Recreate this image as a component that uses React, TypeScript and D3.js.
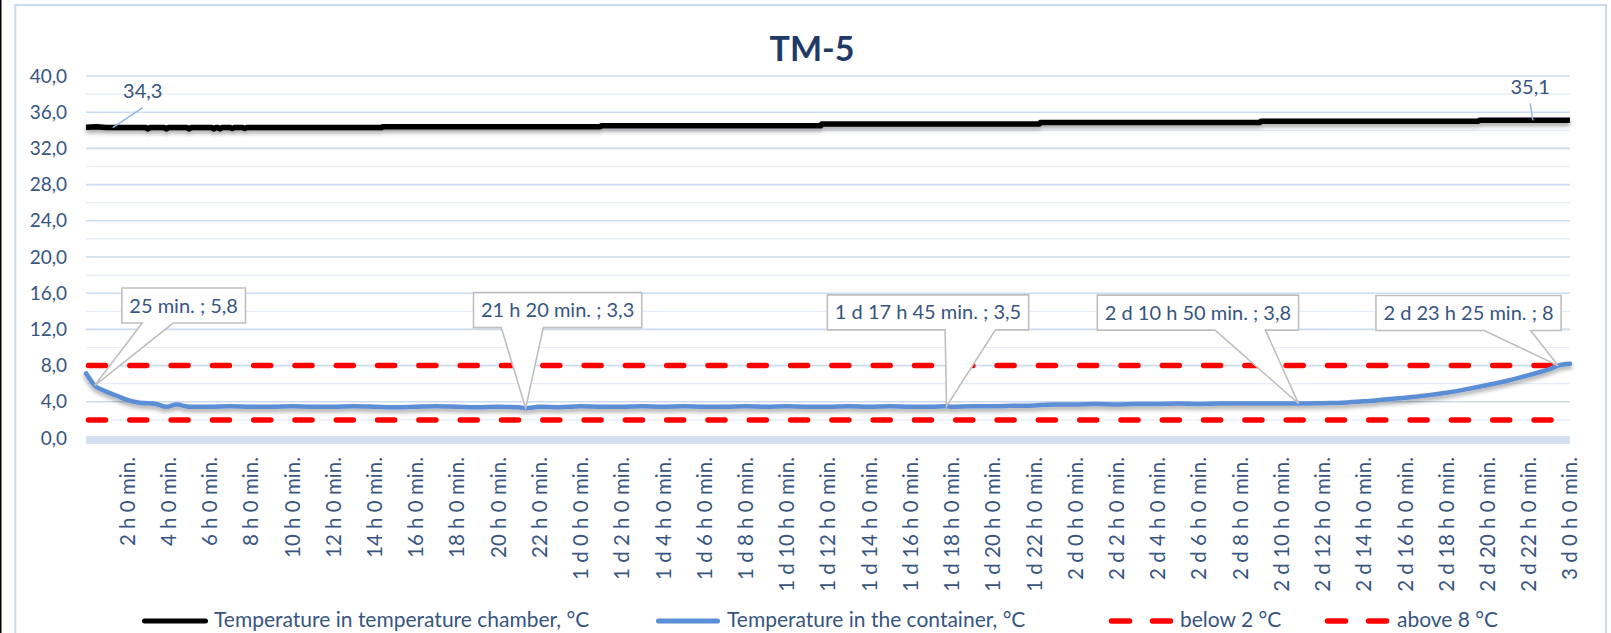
import React, { useEffect, useRef } from 'react';
import * as d3 from 'd3';

const W = 1611;
const H = 633;

const titleText = 'TM-5';

const yTicks = [0, 4, 8, 12, 16, 20, 24, 28, 32, 36, 40];
const yTickLabels = ['0,0', '4,0', '8,0', '12,0', '16,0', '20,0', '24,0', '28,0', '32,0', '36,0', '40,0'];
const yMinorTicks = [2, 6, 10, 14, 18, 22, 26, 30, 34, 38];

const xTickHours = [2, 4, 6, 8, 10, 12, 14, 16, 18, 20, 22, 24, 26, 28, 30, 32, 34, 36, 38, 40, 42, 44, 46, 48, 50, 52, 54, 56, 58, 60, 62, 64, 66, 68, 70, 72];
const xTickLabels = [
  '2 h 0 min.', '4 h 0 min.', '6 h 0 min.', '8 h 0 min.', '10 h 0 min.', '12 h 0 min.', '14 h 0 min.', '16 h 0 min.', '18 h 0 min.', '20 h 0 min.', '22 h 0 min.',
  '1 d 0 h 0 min.', '1 d 2 h 0 min.', '1 d 4 h 0 min.', '1 d 6 h 0 min.', '1 d 8 h 0 min.', '1 d 10 h 0 min.', '1 d 12 h 0 min.', '1 d 14 h 0 min.', '1 d 16 h 0 min.', '1 d 18 h 0 min.', '1 d 20 h 0 min.', '1 d 22 h 0 min.',
  '2 d 0 h 0 min.', '2 d 2 h 0 min.', '2 d 4 h 0 min.', '2 d 6 h 0 min.', '2 d 8 h 0 min.', '2 d 10 h 0 min.', '2 d 12 h 0 min.', '2 d 14 h 0 min.', '2 d 16 h 0 min.', '2 d 18 h 0 min.', '2 d 20 h 0 min.', '2 d 22 h 0 min.',
  '3 d 0 h 0 min.',
];

// Temperature in temperature chamber (hours, °C)
const chamberHours = [0, 0.5, 1.0, 2.9, 3.0, 3.1, 3.8, 3.9, 4.0, 4.9, 5.0, 5.1, 6.1, 6.2, 6.3, 6.4, 6.5, 6.6, 7.0, 7.1, 7.2, 7.6, 7.7, 7.8, 14.35, 14.4, 24.95, 25.0, 35.65, 35.7, 46.25, 46.3, 56.95, 57.0, 67.55, 67.6, 72];
const chamberTemps = [34.35, 34.4, 34.3, 34.3, 34.15, 34.3, 34.3, 34.15, 34.3, 34.3, 34.15, 34.3, 34.3, 34.15, 34.3, 34.3, 34.15, 34.3, 34.3, 34.2, 34.3, 34.3, 34.2, 34.3, 34.3, 34.4, 34.4, 34.5, 34.5, 34.7, 34.7, 34.85, 34.85, 35.0, 35.0, 35.1, 35.1];

// Temperature in the container (hours, °C)
const containerHours = [0, 0.25, 0.42, 0.75, 1, 1.4, 2, 2.6, 3.4, 3.9, 4.4, 5, 6, 7, 8, 9, 10, 11, 12, 13, 14, 15, 16, 17, 18, 19, 20, 21, 21.33, 22, 23, 24, 25, 26, 27, 28, 29, 30, 31, 32, 33, 34, 35, 36, 37, 38, 39, 40, 41, 41.75, 42, 43, 44, 45, 46, 47, 48, 49, 50, 51, 52, 53, 54, 55, 56, 57, 58, 58.83, 59, 60, 61, 62, 63, 64, 65, 66, 67, 68, 69, 70, 71, 71.42, 72];
const containerTemps = [7.15, 6.3, 5.8, 5.35, 5.1, 4.75, 4.2, 3.9, 3.75, 3.45, 3.7, 3.45, 3.45, 3.5, 3.45, 3.45, 3.5, 3.45, 3.45, 3.5, 3.45, 3.4, 3.45, 3.5, 3.45, 3.4, 3.45, 3.4, 3.3, 3.45, 3.4, 3.5, 3.45, 3.45, 3.5, 3.45, 3.5, 3.45, 3.45, 3.5, 3.45, 3.5, 3.45, 3.45, 3.5, 3.45, 3.5, 3.45, 3.45, 3.5, 3.45, 3.5, 3.5, 3.55, 3.6, 3.7, 3.7, 3.75, 3.7, 3.75, 3.75, 3.8, 3.75, 3.8, 3.8, 3.8, 3.8, 3.8, 3.8, 3.85, 3.9, 4.05, 4.25, 4.45, 4.7, 5.0, 5.4, 5.85, 6.35, 6.95, 7.6, 8.0, 8.2];

// Limits
const limitHours = [0, 71.35];
const belowLimit = [2, 2];
const aboveLimit = [8, 8];

// Callouts on container series
const calloutHours = [0.42, 21.33, 41.75, 58.83, 71.42];
const calloutTemps = [5.8, 3.3, 3.5, 3.8, 8];
const calloutTexts = ['25 min. ; 5,8', '21 h 20 min. ; 3,3', '1 d 17 h 45 min. ; 3,5', '2 d 10 h 50 min. ; 3,8', '2 d 23 h 25 min. ; 8'];

// Data labels on chamber series
const chamberLabelHours = [1.3, 70.2];
const chamberLabelTemps = [34.3, 35.1];
const chamberLabelTexts = ['34,3', '35,1'];

const legendNames = ['Temperature in temperature chamber, °C', 'Temperature in the container, °C', 'below 2 °C', 'above 8 °C'];

// ---- layout (positions / styles) ----
const calloutOffsets: [number, number][] = [[89, -80], [32, -98], [-18.5, -94], [-100.6, -91], [-89.5, -52.6]];
const chamberLabelOffsets: [number, number, number][] = [[30, -29.3, -20], [-2.7, -26, -17]];
const legendLayout = [
  { x1: 144.5, x2: 205.5, tx: 214, color: '#000000', width: 5, dash: null as string | null },
  { x1: 658.5, x2: 717.5, tx: 727, color: '#5B8ED6', width: 5, dash: null as string | null },
  { x1: 1111.5, x2: 1170.5, tx: 1180, color: '#FF0000', width: 5.5, dash: '18,23' },
  { x1: 1327.5, x2: 1386.5, tx: 1397, color: '#FF0000', width: 5.5, dash: '18,23' },
];

const FONT = "Lato, 'Liberation Sans', sans-serif";
const TEXT = '#38557F';

export default function App() {
  const ref = useRef<SVGSVGElement>(null);

  useEffect(() => {
    const svg = d3.select(ref.current!);
    svg.selectAll('*').remove();

    const x = d3.scaleLinear().domain([0, 72]).range([86, 1570]);
    const y = d3.scaleLinear().domain([0, 40]).range([438, 76]);

    const defs = svg.append('defs');
    const f = defs.append('filter').attr('id', 'shadow').attr('x', '-5%').attr('y', '-50%').attr('width', '110%').attr('height', '300%');
    f.append('feDropShadow').attr('dx', 0).attr('dy', 3).attr('stdDeviation', 2.2).attr('flood-color', '#000').attr('flood-opacity', 0.35);

    svg.append('rect').attr('width', W).attr('height', H).attr('fill', '#fff');
    svg.append('rect').attr('x', 0).attr('y', 0).attr('width', 1.5).attr('height', H).attr('fill', '#000');
    svg.append('rect').attr('x', 15.3).attr('y', 5).attr('width', 1606 - 15.3).attr('height', H + 10)
      .attr('fill', 'none').attr('stroke', '#C9D9EE').attr('stroke-width', 2);

    // title
    svg.append('text').attr('x', 812).attr('y', 60.5).attr('text-anchor', 'middle')
      .attr('font-family', FONT).attr('font-weight', 700).attr('font-size', 34).attr('fill', '#1F3A66').text(titleText);

    // gridlines
    const g = svg.append('g');
    g.selectAll('line.minor').data(yMinorTicks).join('line')
      .attr('x1', x(0)).attr('x2', x(72)).attr('y1', d => y(d)).attr('y2', d => y(d))
      .attr('stroke', '#E6EDF7').attr('stroke-width', 1.2);
    g.selectAll('line.major').data(yTicks.filter(d => d > 0)).join('line')
      .attr('x1', x(0)).attr('x2', x(72)).attr('y1', d => y(d)).attr('y2', d => y(d))
      .attr('stroke', '#CCDBEF').attr('stroke-width', 1.6);

    // axis band
    svg.append('line').attr('x1', x(0)).attr('x2', x(72)).attr('y1', y(0) + 2).attr('y2', y(0) + 2)
      .attr('stroke', '#D3E0F0').attr('stroke-width', 8);

    // y labels
    svg.append('g').selectAll('text').data(yTicks).join('text')
      .attr('x', 67).attr('y', d => y(d)).attr('dy', '0.35em').attr('text-anchor', 'end')
      .attr('font-family', FONT).attr('font-size', 19).attr('fill', TEXT)
      .text((d, i) => yTickLabels[i]);

    // x labels
    svg.append('g').selectAll('text').data(xTickHours).join('text')
      .attr('transform', d => `translate(${x(d)},457) rotate(-90)`)
      .attr('dy', '0.36em').attr('text-anchor', 'end')
      .attr('font-family', FONT).attr('font-size', 20.5).attr('fill', TEXT)
      .text((d, i) => xTickLabels[i]);

    // limit lines
    const limLine = d3.line<number>().x((d, i) => x(limitHours[i])).y(d => y(d));
    [belowLimit, aboveLimit].forEach(vals => {
      svg.append('path').attr('d', limLine(vals)!).attr('fill', 'none')
        .attr('stroke', '#FF0000').attr('stroke-width', 5.5).attr('stroke-linecap', 'round')
        .attr('stroke-dasharray', '17,24.3').attr('stroke-dashoffset', -2.5);
    });

    // chamber line
    const chamberLine = d3.line<number>().x((d, i) => x(chamberHours[i])).y(d => y(d));
    svg.append('path').attr('d', chamberLine(chamberTemps)!).attr('fill', 'none')
      .attr('stroke', '#000').attr('stroke-width', 5.5).attr('stroke-linejoin', 'round')
      .attr('filter', 'url(#shadow)');

    // container line
    const containerLine = d3.line<number>().x((d, i) => x(containerHours[i])).y(d => y(d)).curve(d3.curveMonotoneX);
    svg.append('path').attr('d', containerLine(containerTemps)!).attr('fill', 'none')
      .attr('stroke', '#5B8ED6').attr('stroke-width', 4.5).attr('stroke-linejoin', 'round').attr('stroke-linecap', 'round')
      .attr('filter', 'url(#shadow)');

    // chamber data labels
    chamberLabelHours.forEach((h, i) => {
      const px = x(h), py = y(chamberLabelTemps[i]);
      const [dx, dyText, dyLeader] = chamberLabelOffsets[i];
      svg.append('line').attr('x1', px + dx).attr('y1', py + dyLeader).attr('x2', px).attr('y2', py)
        .attr('stroke', '#8FB4E3').attr('stroke-width', 1.4);
      svg.append('text').attr('x', px + dx).attr('y', py + dyText).attr('text-anchor', 'middle')
        .attr('font-family', FONT).attr('font-size', 20).attr('fill', TEXT).text(chamberLabelTexts[i]);
    });

    // callouts
    calloutHours.forEach((h, i) => {
      const px = x(h), py = y(calloutTemps[i]);
      const [ox, oy] = calloutOffsets[i];
      const cx = px + ox, cy = py + oy;
      const grp = svg.append('g');
      const path = grp.append('path');
      const t = grp.append('text').attr('x', cx).attr('y', cy).attr('dy', '0.35em').attr('text-anchor', 'middle')
        .attr('font-family', FONT).attr('font-size', 20).attr('fill', TEXT).text(calloutTexts[i]);
      const tw = (t.node() as SVGTextElement).getComputedTextLength();
      const bw = tw + 15, bh = 35;
      const l = cx - bw / 2, r = cx + bw / 2, tp = cy - bh / 2, b = cy + bh / 2;
      const side = px >= cx ? 1 : -1;
      const bc = cx + side * 0.21 * bw;
      const bl = bc - 0.125 * bw, br = bc + 0.125 * bw;
      path.attr('d', `M${l},${tp}H${r}V${b}H${br}L${px},${py}L${bl},${b}H${l}Z`)
        .attr('fill', '#fff').attr('stroke', '#BFBFBF').attr('stroke-width', 1.6).attr('stroke-linejoin', 'miter');
    });

    // legend
    const lg = svg.append('g');
    legendLayout.forEach((L, i) => {
      const ln = lg.append('line').attr('x1', L.x1).attr('x2', L.x2).attr('y1', 621).attr('y2', 621)
        .attr('stroke', L.color).attr('stroke-width', L.width).attr('stroke-linecap', 'round');
      if (L.dash) ln.attr('stroke-dasharray', L.dash);
      lg.append('text').attr('x', L.tx).attr('y', 620).attr('dy', '0.35em')
        .attr('font-family', FONT).attr('font-size', 21).attr('fill', TEXT).text(legendNames[i]);
    });
  }, []);

  return <svg ref={ref} width={W} height={H} style={{ position: 'absolute', left: 0, top: 0, background: '#fff' }} />;
}
